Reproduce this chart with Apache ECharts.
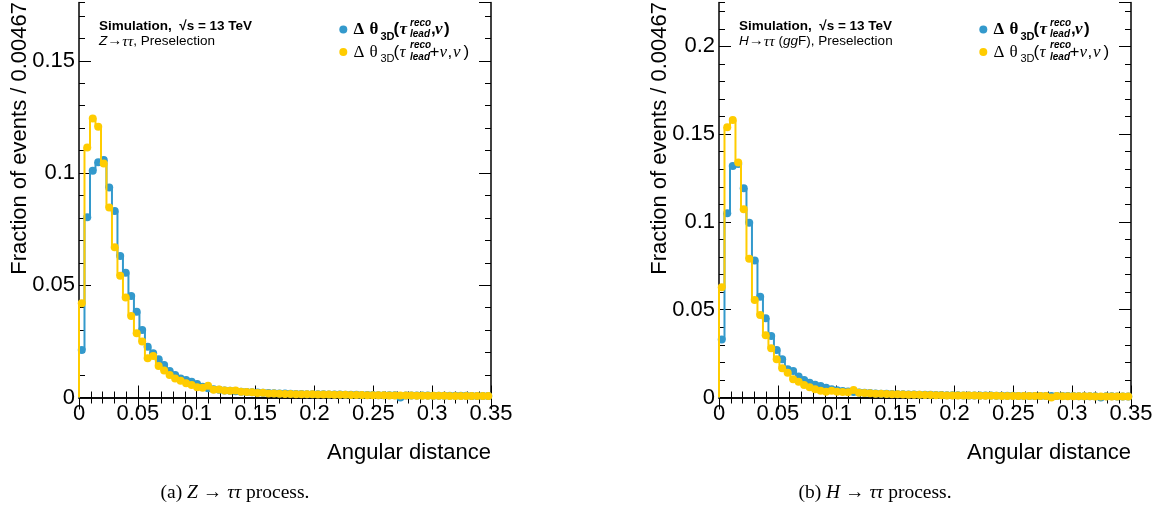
<!DOCTYPE html>
<html><head><meta charset="utf-8">
<script src="https://cdn.jsdelivr.net/npm/echarts@6.0.0/dist/echarts.min.js"></script>
<style>html,body{margin:0;padding:0;background:#fff}#c{width:1162px;height:528px}</style>
</head><body><div id="c"></div>
<script>
// ---- data ----
const binCount = 75;
const xRange = [0, 0.35];
const xTickStep = 0.05;
const yTickStep = 0.05;
const yMaxZ = 0.176;
const yMaxH = 0.225;
const zBlue = [0.0212,0.0803,0.1010,0.1048,0.1058,0.0936,0.0831,0.0630,0.0556,0.0452,
 0.0382,0.0301,0.0226,0.0197,0.0170,0.0145,0.0118,0.0100,0.0085,0.0078,
 0.0070,0.0060,0.0048,0.0041,0.0037,0.0034,0.0031,0.0030,0.0028,0.0026,
 0.0025,0.0023,0.0022,0.0021,0.0020,0.0019,0.0018,0.0018,0.0017,0.0016,
 0.0016,0.0015,0.0015,0.0014,0.0014,0.0013,0.0013,0.0013,0.0012,0.0012,
 0.0012,0.0011,0.0011,0.0011,0.0010,0.0010,0.0010,0.0010,0.0000,0.0009,
 0.0009,0.0009,0.0009,0.0009,0.0008,0.0008,0.0008,0.0008,0.0008,0.0008,
 0.0008,0.0007,0.0007,0.0007,0.0007];
const zYellow = [0.0420,0.1114,0.1243,0.1206,0.1043,0.0847,0.0669,0.0543,0.0446,0.0363,
 0.0286,0.0249,0.0175,0.0185,0.0140,0.0120,0.0100,0.0085,0.0075,0.0064,
 0.0056,0.0046,0.0043,0.0052,0.0035,0.0036,0.0031,0.0030,0.0031,0.0026,
 0.0024,0.0023,0.0020,0.0021,0.0018,0.0018,0.0017,0.0016,0.0016,0.0015,
 0.0015,0.0014,0.0014,0.0013,0.0013,0.0013,0.0012,0.0012,0.0012,0.0011,
 0.0011,0.0011,0.0010,0.0010,0.0010,0.0010,0.0009,0.0009,0.0009,0.0009,
 0.0009,0.0008,0.0008,0.0008,0.0008,0.0008,0.0008,0.0007,0.0007,0.0007,
 0.0007,0.0007,0.0007,0.0007,0.0007];
const hBlue = [0.0331,0.1049,0.1319,0.1330,0.1192,0.0996,0.0780,0.0574,0.0451,0.0350,
 0.0271,0.0218,0.0161,0.0151,0.0120,0.0100,0.0084,0.0072,0.0066,0.0055,
 0.0047,0.0041,0.0037,0.0034,0.0031,0.0029,0.0027,0.0025,0.0023,0.0022,
 0.0021,0.0020,0.0019,0.0018,0.0017,0.0017,0.0016,0.0015,0.0015,0.0014,
 0.0014,0.0013,0.0013,0.0013,0.0012,0.0012,0.0012,0.0011,0.0011,0.0011,
 0.0010,0.0010,0.0010,0.0010,0.0009,0.0009,0.0009,0.0009,0.0009,0.0008,
 0.0008,0.0008,0.0008,0.0008,0.0008,0.0007,0.0007,0.0007,0.0007,0.0000,
 0.0007,0.0007,0.0006,0.0006,0.0006];
const hYellow = [0.0628,0.1539,0.1581,0.1338,0.1072,0.0791,0.0556,0.0470,0.0354,0.0280,
 0.0218,0.0166,0.0141,0.0104,0.0090,0.0071,0.0058,0.0047,0.0039,0.0033,
 0.0039,0.0033,0.0032,0.0030,0.0043,0.0027,0.0026,0.0024,0.0022,0.0021,
 0.0020,0.0019,0.0018,0.0017,0.0016,0.0016,0.0015,0.0014,0.0014,0.0013,
 0.0013,0.0012,0.0012,0.0012,0.0011,0.0011,0.0011,0.0010,0.0010,0.0010,
 0.0010,0.0009,0.0009,0.0009,0.0009,0.0009,0.0008,0.0008,0.0008,0.0008,
 0.0000,0.0008,0.0007,0.0007,0.0007,0.0007,0.0007,0.0007,0.0006,0.0006,
 0.0006,0.0006,0.0006,0.0006,0.0006];
const seriesNames = ['Δθ3D(τ_lead^reco, ν)', 'Δθ3D(τ_lead^reco+ν, ν)'];
const xTitle = 'Angular distance';
const yTitle = 'Fraction of events / 0.00467';
const processLabels = [['Z', 'ττ'], ['H', 'ττ']];
const captions = [['(a) ', 'Z', ' → ', 'ττ', ' process.'], ['(b) ', 'H', ' → ', 'ττ', ' process.']];

// ---- styling ----
const BLUE = '#3399cc', YELLOW = '#ffcc00';
const SANS = 'Liberation Sans', SERIF = 'Liberation Serif';
const FS = 22;
const panels = [
  {left: 79, yMax: yMaxZ, blue: zBlue, yellow: zYellow, ox: 0},
  {left: 719, yMax: yMaxH, blue: hBlue, yellow: hYellow, ox: 640}
];
const GTOP = 2.5, GH = 395, GW = 412;
const W = (xRange[1] - xRange[0]) / binCount;
function stepData(v) {
  const d = [[xRange[0], 0]];
  v.forEach((y, i) => d.push([xRange[0] + i * W, y]));
  d.push([xRange[0] + binCount * W, v[v.length - 1]]);
  return d;
}
function centerData(v) { return v.map((y, i) => [xRange[0] + (i + 0.5) * W, y]); }

const grid = [], xAxis = [], yAxis = [], series = [], graphic = [];
const lineStyle = {color: '#000', width: 1.5};
panels.forEach((p, pi) => {
  grid.push({left: p.left, top: GTOP, width: GW, height: GH, containLabel: false});
  const xBase = {type: 'value', gridIndex: pi, min: xRange[0], max: xRange[1], interval: xTickStep,
    axisLine: {show: true, lineStyle}, splitLine: {show: false},
    axisTick: {show: true, inside: true, length: 12, lineStyle: {color: '#000', width: 1}},
    minorTick: {show: true, splitNumber: 5, length: 6, lineStyle: {color: '#000', width: 1}}};
  xAxis.push(Object.assign({}, xBase, {position: 'bottom',
    axisLabel: {show: true, fontSize: FS, fontFamily: SANS, color: '#000', margin: 5}}));
  xAxis.push(Object.assign({}, xBase, {position: 'top', axisLabel: {show: false}}));
  const yBase = {type: 'value', gridIndex: pi, min: 0, max: p.yMax, splitLine: {show: false}};
  const yMajor = Object.assign({}, yBase, {interval: yTickStep, axisLine: {show: true, lineStyle},
    axisTick: {show: true, inside: true, length: 12, lineStyle: {color: '#000', width: 1}}});
  const yMinor = Object.assign({}, yBase, {interval: 0.01, axisLine: {show: false},
    axisLabel: {show: false},
    axisTick: {show: true, inside: true, length: 6, lineStyle: {color: '#000', width: 1}}});
  yAxis.push(Object.assign({}, yMajor, {position: 'left',
    axisLabel: {show: true, fontSize: FS, fontFamily: SANS, color: '#000', margin: 4, showMaxLabel: false}}));
  yAxis.push(Object.assign({}, yMinor, {position: 'left'}));
  yAxis.push(Object.assign({}, yMajor, {position: 'right', axisLabel: {show: false}}));
  yAxis.push(Object.assign({}, yMinor, {position: 'right'}));
  const xi = 2 * pi, yi = 4 * pi;
  [[p.blue, BLUE, seriesNames[0]], [p.yellow, YELLOW, seriesNames[1]]].forEach(([vals, col, nm], k) => {
    series.push({type: 'line', name: nm + ' hist', xAxisIndex: xi, yAxisIndex: yi, data: stepData(vals),
      step: 'end', showSymbol: false, symbol: 'none', lineStyle: {color: col, width: 2}, z: 2 + 2 * k,
      animation: false, clip: true});
    series.push({type: 'scatter', name: nm, xAxisIndex: xi, yAxisIndex: yi, data: centerData(vals),
      symbol: 'circle', symbolSize: 8, itemStyle: {color: col, opacity: 1}, z: 3 + 2 * k, animation: false});
  });

  const ox = p.ox;
  // y title
  graphic.push({type: 'text', x: 20 + ox, y: 2, rotation: Math.PI / 2,
    style: {text: yTitle, fontSize: FS, fontFamily: SANS, fill: '#000', align: 'right', verticalAlign: 'middle'}});
  // x title
  graphic.push({type: 'text', x: p.left + GW, y: 453,
    style: {text: xTitle, fontSize: FS, fontFamily: SANS, fill: '#000', align: 'right', verticalAlign: 'middle'}});
  // simulation label
  graphic.push({type: 'text', x: 99 + ox, y: 26,
    style: {text: 'Simulation,  √s = 13 TeV', fontSize: 13.5, fontWeight: 'bold', fontFamily: SANS, fill: '#000', align: 'left', verticalAlign: 'middle'}});
  const pl = processLabels[pi];
  const line2 = pi === 0
    ? '{i|' + pl[0] + '}{a|→}{g|' + pl[1] + '}, Preselection'
    : '{i|' + pl[0] + '}{a|→}{g|' + pl[1] + '} ({i|gg}F), Preselection';
  graphic.push({type: 'text', x: 99 + ox, y: 41.5,
    style: {text: line2, fontSize: 13.5, fontFamily: SANS, fill: '#000', align: 'left', verticalAlign: 'middle',
      rich: {i: {fontSize: 13.5, fontFamily: SANS, fontStyle: 'italic', fill: '#000'},
             a: {fontSize: 15, fontFamily: SERIF, fill: '#000'},
             g: {fontSize: 15.5, fontFamily: SERIF, fontStyle: 'italic', fill: '#000'}}}});
  // legend entries
  const entries = [
    {y: 29.8, col: BLUE, bold: true, tail: [[',', 431, SANS, 'normal'], ['ν', 435, SERIF, 'italic'], [')', 444, SANS, 'normal']]},
    {y: 52.3, col: YELLOW, bold: false, tail: [['+', 429.5, SANS, 'normal'], ['ν', 439.5, SERIF, 'italic'], [',', 447.5, SANS, 'normal'], ['ν', 453, SERIF, 'italic'], [')', 463.5, SANS, 'normal']]}
  ];
  entries.forEach(e => {
    const fw = e.bold ? 'bold' : 'normal';
    graphic.push({type: 'circle', shape: {cx: 343.3 + ox, cy: e.y - 0.3, r: 4}, style: {fill: e.col}});
    const t = (s, x, y, size, fam, st, w) => graphic.push({type: 'text', x: x + ox, y,
      style: {text: s, fontSize: size, fontFamily: fam, fontStyle: st || 'normal', fontWeight: w || fw, fill: '#000', align: 'left', verticalAlign: 'middle'}});
    t('Δ', 353.5, e.y, 17, SERIF);
    t('θ', 369.5, e.y, 17, SERIF);
    t('3D', 380.5, e.y + 7, 11, SANS);
    t('(', 393.5, e.y, 17, SANS);
    t('τ', 399.5, e.y, 17, SERIF, 'italic');
    t('reco', 410, e.y - 6.8, 10, SANS, 'italic', 'bold');
    t('lead', 410, e.y + 4.6, 10, SANS, 'italic', 'bold');
    e.tail.forEach(([s, x, fam, st]) => t(s, x, e.y, 17, fam, st));
  });
  // caption
  const c = captions[pi];
  graphic.push({type: 'text', x: (pi === 0 ? 235 : 875), y: 493,
    style: {text: c[0] + '{i|' + c[1] + '}' + c[2] + '{i|' + c[3] + '}' + c[4], fontSize: 19.5, fontFamily: SERIF, fill: '#000',
      align: 'center', verticalAlign: 'middle',
      rich: {i: {fontSize: 19.5, fontFamily: SERIF, fontStyle: 'italic', fill: '#000'}}}});
});

const chart = echarts.init(document.getElementById('c'), null, {renderer: 'canvas'});
chart.setOption({animation: false, backgroundColor: '#fff', grid, xAxis, yAxis, series, graphic,
  textStyle: {fontFamily: SANS}});
</script>
</body></html>
